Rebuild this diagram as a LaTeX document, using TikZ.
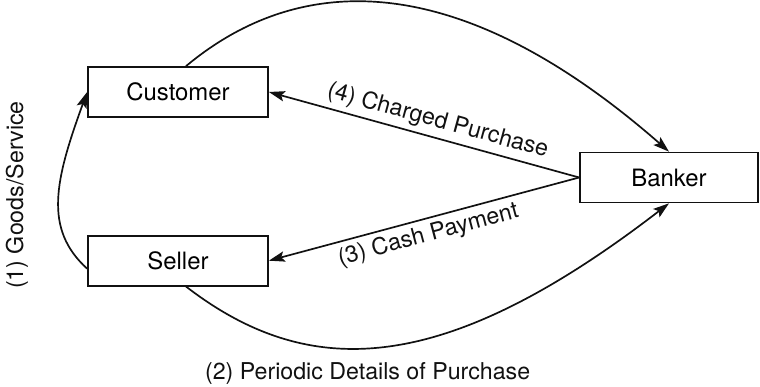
\documentclass[tikz,border=0pt]{standalone}
\usepackage{fontspec}
\setmainfont{TeX Gyre Heros}
\usetikzlibrary{arrows.meta, positioning}
\definecolor{cink}{HTML}{111111}
\tikzset{
  every picture/.style={line width=1.2pt},
  party/.style={draw=cink, fill=white, minimum width=4.5cm, minimum height=1.25cm, font=\fontsize{17}{20}\selectfont},
  flow/.style={-{Stealth[length=4mm, width=2.6mm, inset=0.8mm]}, draw=cink},
  lbl/.style={font=\fontsize{16.5}{20}\selectfont, text=cink},
}

\begin{document}
\begin{tikzpicture}
  \useasboundingbox (0,0) rectangle (19,9.675);
  \node[party] (customer) at (4.45,7.375) {Customer};
  \node[party, below=2.925cm of customer] (seller) {Seller};
  \node[party, minimum width=4.45cm] (banker) at (16.725,5.2375) {Banker};
  % straight flows out of the banker
  \draw[flow] (banker.west) -- (customer.east) node[lbl, pos=0.47, above, sloped] (charged) {(4) Charged Purchase};
  \draw[flow] (banker.west) -- (seller.east) node[lbl, midway, below, sloped] (cash) {(3) Cash Payment};
  % curved flows
  \draw[flow] ([yshift=-2mm]seller.west) .. controls +(-1.1,1.0) and +(-0.8,-2.2) .. (customer.west);
  \draw[flow] ([xshift=2mm]customer.north) .. controls +(2.9,2.42) and +(-5.2,4.55) .. (banker.north);
  \draw[flow] ([xshift=2mm]seller.south) .. controls +(3.04,-2.34) and +(-5.7,-4.39) .. (banker.south);
  \node[lbl, rotate=90] (goods) at (0.425,4.8) {(1) Goods/Service};
  \node[lbl] (periodic) at (9.19,0.33) {(2) Periodic Details of Purchase};
\end{tikzpicture}
\end{document}
